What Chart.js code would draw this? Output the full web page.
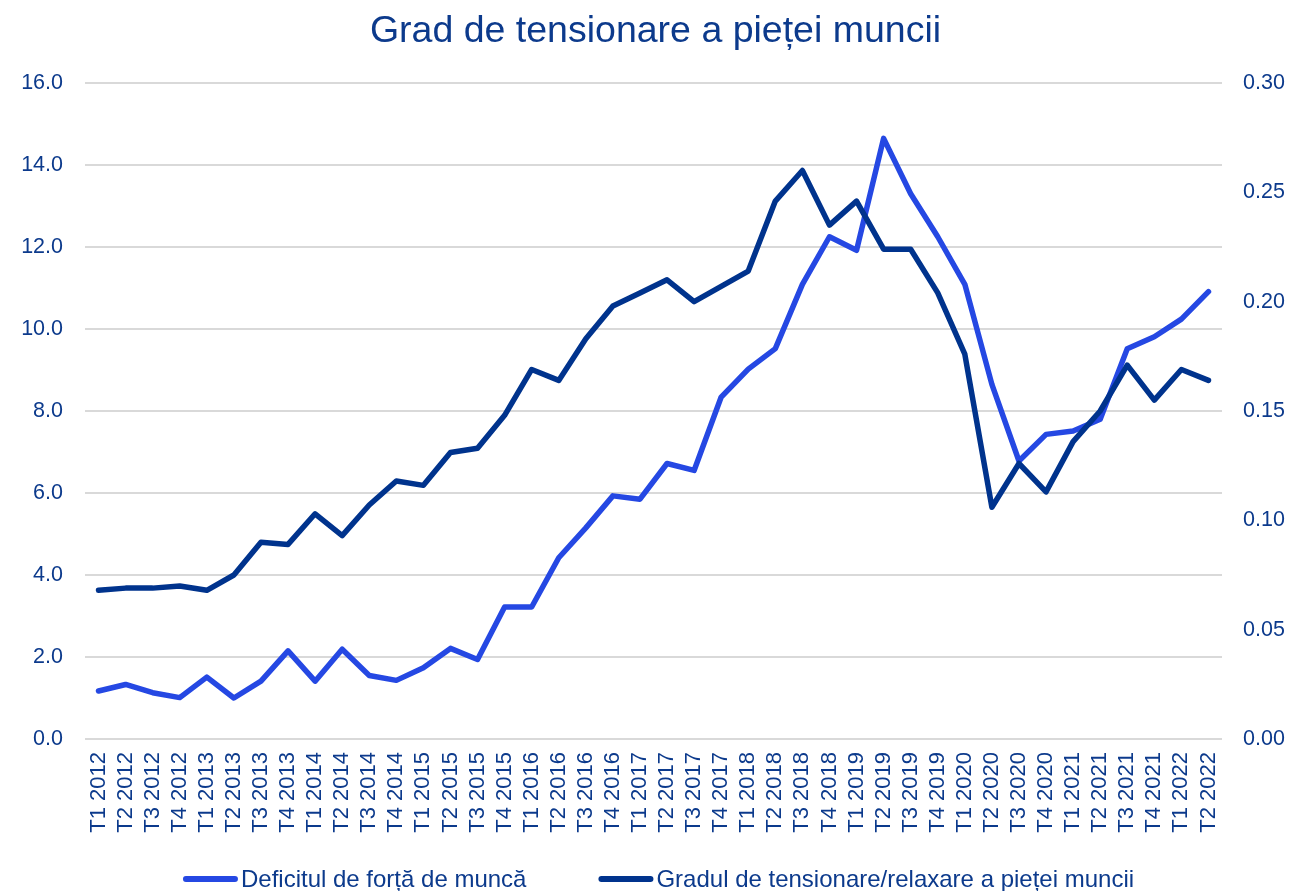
<!DOCTYPE html>
<html lang="ro">
<head>
<meta charset="utf-8">
<title>Grad de tensionare a pieței muncii</title>
<script src="https://cdn.jsdelivr.net/npm/chart.js@4/dist/chart.umd.min.js"></script>
<style>
  html, body { margin: 0; padding: 0; background: #ffffff; }
  #wrap { width: 1294px; height: 891px; position: relative; }
</style>
</head>
<body>
<div id="wrap"><canvas id="chart" width="1294" height="891"></canvas></div>
<script>
// Quarters on the horizontal axis
const categories = [
  'T1 2012','T2 2012','T3 2012','T4 2012',
  'T1 2013','T2 2013','T3 2013','T4 2013',
  'T1 2014','T2 2014','T3 2014','T4 2014',
  'T1 2015','T2 2015','T3 2015','T4 2015',
  'T1 2016','T2 2016','T3 2016','T4 2016',
  'T1 2017','T2 2017','T3 2017','T4 2017',
  'T1 2018','T2 2018','T3 2018','T4 2018',
  'T1 2019','T2 2019','T3 2019','T4 2019',
  'T1 2020','T2 2020','T3 2020','T4 2020',
  'T1 2021','T2 2021','T3 2021','T4 2021',
  'T1 2022','T2 2022'
];

// Labour shortage (left axis)
const deficitValues = [
  1.17, 1.33, 1.13, 1.01,
  1.51, 1.00, 1.41, 2.15,
  1.41, 2.19, 1.55, 1.43,
  1.74, 2.21, 1.94, 3.22,
  3.22, 4.42, 5.15, 5.93,
  5.85, 6.72, 6.55, 8.34,
  9.02, 9.52, 11.09, 12.25,
  11.92, 14.65, 13.30, 12.25,
  11.09, 8.65, 6.78, 7.43,
  7.51, 7.80, 9.52, 9.81,
  10.24, 10.91
];

// Labour market tightness / slack ratio (right axis)
const tensionValues = [
  0.068, 0.069, 0.069, 0.070,
  0.068, 0.075, 0.090, 0.089,
  0.103, 0.093, 0.107, 0.118,
  0.116, 0.131, 0.133, 0.148,
  0.169, 0.164, 0.183, 0.198,
  0.204, 0.210, 0.200, 0.207,
  0.214, 0.246, 0.260, 0.235,
  0.246, 0.224, 0.224, 0.204,
  0.176, 0.106, 0.126, 0.113,
  0.136, 0.150, 0.171, 0.155,
  0.169, 0.164
];

// Axis tick values
const leftTicks = [0, 2, 4, 6, 8, 10, 12, 14, 16];
const rightTicks = [0, 0.05, 0.10, 0.15, 0.20, 0.25, 0.30];

const seriesNames = ['Deficitul de forță de muncă', 'Gradul de tensionare/relaxare a pieței muncii'];
const chartTitle = 'Grad de tensionare a pieței muncii';

const TEXT = '#0c3a8c';
const LIGHT = '#2548e3';
const DARK = '#00338d';
const FONT = '"Liberation Sans", Arial, sans-serif';

// Title drawn centred over the plot area
const titlePlugin = {
  id: 'centredTitle',
  afterDraw(chart) {
    const { ctx, chartArea } = chart;
    ctx.save();
    ctx.font = '37.5px ' + FONT;
    ctx.fillStyle = TEXT;
    ctx.textAlign = 'center';
    ctx.textBaseline = 'alphabetic';
    ctx.fillText(chartTitle, (chartArea.left + chartArea.right) / 2 + 2, 42);
    ctx.restore();
  }
};

// Legend row along the bottom edge: short rounded line swatch, then the series name
const legendPlugin = {
  id: 'lineLegend',
  afterDraw(chart) {
    const { ctx, chartArea } = chart;
    const swatch = 55, gapText = 3, gapItems = 72;
    ctx.save();
    ctx.font = '24px ' + FONT;
    const items = chart.data.datasets.map(ds => ({
      text: ds.label, color: ds.borderColor, w: ctx.measureText(ds.label).width
    }));
    let total = 0;
    items.forEach((it, i) => { total += swatch + gapText + it.w + (i ? gapItems : 0); });
    let x = (chartArea.left + chartArea.right) / 2 + 5 - total / 2;
    const yLine = 879, yText = 887;
    items.forEach(it => {
      ctx.strokeStyle = it.color;
      ctx.lineWidth = 6;
      ctx.lineCap = 'round';
      ctx.beginPath();
      ctx.moveTo(x + 3, yLine);
      ctx.lineTo(x + swatch - 3, yLine);
      ctx.stroke();
      ctx.fillStyle = TEXT;
      ctx.textAlign = 'left';
      ctx.textBaseline = 'alphabetic';
      ctx.fillText(it.text, x + swatch + gapText, yText);
      x += swatch + gapText + it.w + gapItems;
    });
    ctx.restore();
  }
};

new Chart(document.getElementById('chart'), {
  type: 'line',
  data: {
    labels: categories,
    datasets: [
      {
        label: seriesNames[0],
        data: deficitValues,
        yAxisID: 'yLeft',
        borderColor: LIGHT,
        backgroundColor: LIGHT,
        borderWidth: 5.5,
        pointRadius: 0,
        tension: 0,
        borderCapStyle: 'round',
        borderJoinStyle: 'round',
        order: 2
      },
      {
        label: seriesNames[1],
        data: tensionValues,
        yAxisID: 'yRight',
        borderColor: DARK,
        backgroundColor: DARK,
        borderWidth: 5.5,
        pointRadius: 0,
        tension: 0,
        borderCapStyle: 'round',
        borderJoinStyle: 'round',
        order: 1
      }
    ]
  },
  options: {
    responsive: false,
    animation: false,
    events: [],
    layout: { padding: { top: 83, left: 0, right: 0, bottom: 40 } },
    plugins: {
      title: { display: false },
      tooltip: { enabled: false },
      legend: { display: false }
    },
    scales: {
      x: {
        offset: true,
        grid: { display: false, drawTicks: false },
        border: { display: false },
        ticks: {
          color: TEXT,
          font: { family: FONT, size: 22 },
          minRotation: 90,
          maxRotation: 90,
          autoSkip: false,
          padding: 13
        },
        afterFit(scale) { scale.height = 112; }
      },
      yLeft: {
        type: 'linear',
        position: 'left',
        min: 0,
        max: 16,
        afterBuildTicks(scale) { scale.ticks = leftTicks.map(v => ({ value: v })); },
        grid: { color: '#d9d9d9', lineWidth: 2, drawTicks: false },
        border: { display: false },
        ticks: {
          color: TEXT,
          font: { family: FONT, size: 21.5 },
          padding: 22,
          callback: v => v.toFixed(1)
        },
        afterFit(scale) { scale.width = 85; }
      },
      yRight: {
        type: 'linear',
        position: 'right',
        min: 0,
        max: 0.30,
        afterBuildTicks(scale) { scale.ticks = rightTicks.map(v => ({ value: v })); },
        grid: { display: false, drawTicks: false },
        border: { display: false },
        ticks: {
          color: TEXT,
          font: { family: FONT, size: 21.5 },
          padding: 21,
          callback: v => v.toFixed(2)
        },
        afterFit(scale) { scale.width = 72; }
      }
    }
  },
  plugins: [titlePlugin, legendPlugin]
});
</script>
</body>
</html>
